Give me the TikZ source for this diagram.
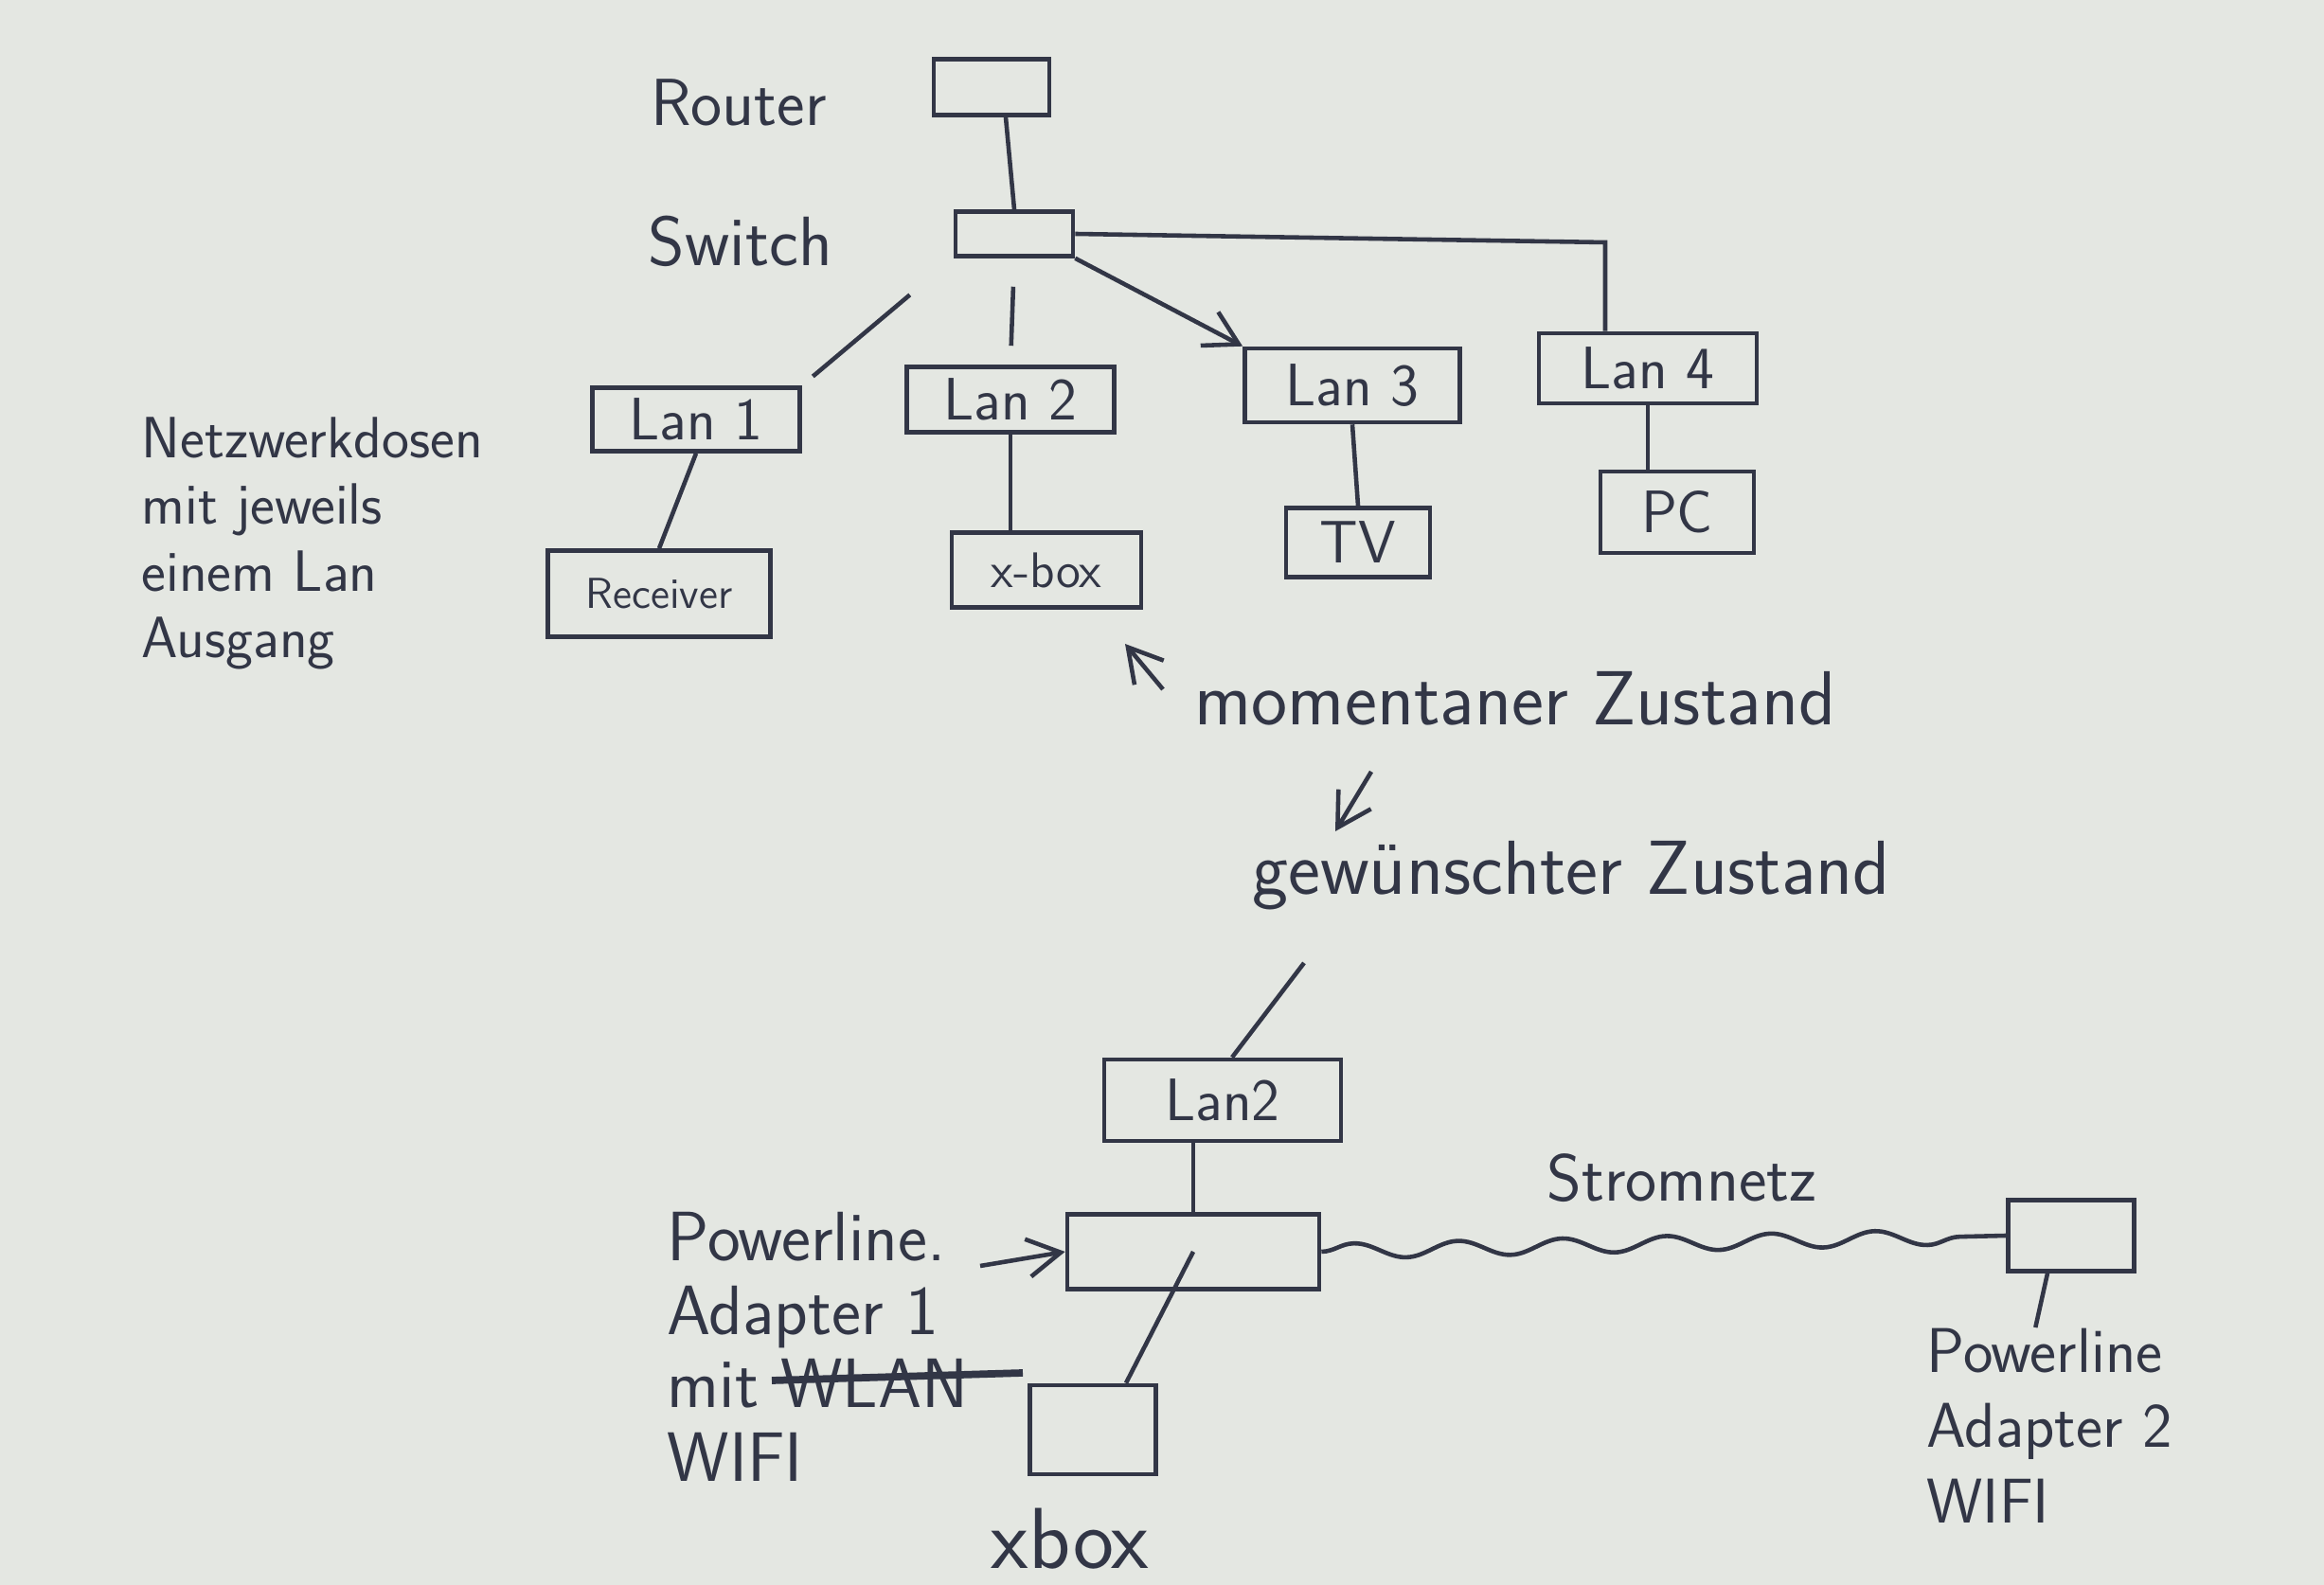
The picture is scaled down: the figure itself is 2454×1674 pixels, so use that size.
\documentclass[tikz,border=0pt]{standalone}
\usetikzlibrary{calc,arrows.meta,decorations.pathmorphing}
\definecolor{paper}{RGB}{228,231,226}
\definecolor{ink}{RGB}{50,54,70}
\tikzset{
    box/.style 2 args={draw=ink,line width=1.3pt,inner sep=0pt,text=ink,
      minimum width=#1,minimum height=#2,font=\sffamily\fontsize{18}{20}\selectfont},
    hand/.style={text=ink,inner sep=0pt,font=\sffamily\fontsize{#1}{#1}\selectfont},
    hand/.default=20,
    wire/.style={draw=ink,line width=1.3pt},
    tip/.style={-{Straight Barb[length=3.5mm,width=4mm]}},
  }

\begin{document}
\begin{tikzpicture}[x=0.01cm,y=-0.01cm]
				  \useasboundingbox (0,0) rectangle (2454,1674);
				  \fill[paper] (0,0) rectangle (2454,1674);
				  %momentaner Zustand
				  \node[box={1.22cm}{0.59cm}] (router) at (1047,92) {};
				  \node[box={1.24cm}{0.47cm}] (switch) at (1071,247) {};
				  \node[hand] (routertxt) at (780,108) {Router};
				  \node[hand=21] (switchtxt) at (782,255) {Switch};

				  \node[box={2.19cm}{0.67cm}] (lan1) at (735,443) {Lan 1};
				  \node[box={2.19cm}{0.69cm}] (lan2) at (1067,422) {Lan 2};
				  \node[box={2.27cm}{0.78cm}] (lan3) at (1428,407) {Lan 3};
				  \node[box={2.30cm}{0.74cm}] (lan4) at (1740,389) {Lan 4};

				  \node[box={2.35cm}{0.91cm},font=\sffamily\fontsize{13}{15}\selectfont] (recv) at (696,627) {Receiver};
				  \node[box={2.00cm}{0.79cm},font=\sffamily\fontsize{15}{17}\selectfont] (xbox) at (1105,602) {x-box};
				  \node[box={1.52cm}{0.73cm}] (tv) at (1434,573) {TV};
				  \node[box={1.62cm}{0.86cm}] (pc) at (1771,541) {PC};

				  \node[align=left,anchor=north west,hand,font=\sffamily\fontsize{17.5}{20}\selectfont] (dosen) at (149,440)
				    {Netzwerkdosen\\mit jeweils\\einem Lan\\Ausgang};

				  \draw[wire] ($(router.south)+(15,0)$) -- (switch.north);
				  \draw[wire,shorten <=0.6cm,shorten >=0.15cm] (switch.south west) -- (lan1.north east);
				  \draw[wire,shorten <=0.3cm,shorten >=0.2cm] (switch.south) -- (lan2.north);
				  \draw[wire,tip] (switch.south east) -- (lan3.north west);
				  \draw[wire] (switch.east) -- (1695,256) -- ($(lan4.north)+(-45,0)$);
				  \draw[wire] (lan1.south) -- (recv.north);
				  \draw[wire] (lan2.south) -- (xbox.north -| lan2.south);
				  \draw[wire] (lan3.south) -- (tv.north);
				  \draw[wire] (lan4.south) -- (lan4.south |- pc.north);

				  \node[hand=23] (jetzt) at (1600,738) {momentaner Zustand};
				  \coordinate (jetztpfeil) at (1228,728);
				  \coordinate (jetztspitze) at (1188,680);
				  \draw[wire,tip] (jetztpfeil) -- (jetztspitze);

				  \node[hand=23] (soll) at (1659,925) {gewünschter Zustand};
				  \coordinate (sollpfeil) at (1448,815);
				  \coordinate (sollspitze) at (1410,878);
				  \draw[wire,tip] (sollpfeil) -- (sollspitze);

				  %gewuenschter Zustand
				  \coordinate (kabel) at (1377,1017);
				  \node[box={2.50cm}{0.86cm}] (lanb) at (1291,1162) {Lan2};
				  \node[box={2.66cm}{0.79cm}] (pla1) at (1260,1322) {};
				  \node[box={1.33cm}{0.94cm}] (xbox2) at (1154,1510) {};
				  \node[box={1.33cm}{0.75cm}] (pla2) at (2187,1305) {};
				  \node[hand=26] (xbox2txt) at (1130,1625) {xbox};
				  \node[hand=20] (netz) at (1776,1244) {Stromnetz};

				  \node[align=left,anchor=north west,hand,font=\sffamily\fontsize{21}{22}\selectfont] (pla1txt) at (704,1280)
				    {Powerline.\\Adapter 1\\mit WLAN\\WIFI};
				  \node[align=left,anchor=north west,hand,font=\sffamily\fontsize{19}{22.7}\selectfont] (pla2txt) at (2034,1402)
				    {Powerline\\Adapter 2\\WIFI};
				  \draw[ink,line width=2.2pt] (815,1458) -- (1080,1450); % WLAN gestrichen

				  \draw[wire] (kabel) -- ($(lanb.north)+(10,0)$);
				  \draw[wire] (lanb.south -| pla1.north) -- (pla1.north);
				  \draw[wire] (pla1.center) -- ($(xbox2.north)+(35,0)$);
				  \draw[wire,tip] (1035,1337) -- (pla1.west);
				  \draw[wire,decorate,decoration={snake,amplitude=0.8mm,segment length=1.1cm}] (pla1.east) -- (pla2.west);
				  \draw[wire] ($(pla2.south)+(-25,0)$) -- ($(pla2txt.north)+(-15,0)$);
				  \end{tikzpicture}
\end{document}
